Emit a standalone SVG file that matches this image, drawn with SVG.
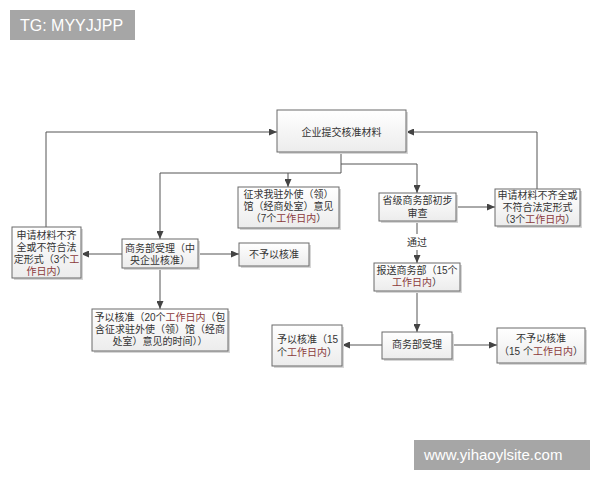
<svg xmlns="http://www.w3.org/2000/svg" width="600" height="480" viewBox="0 0 600 480">
<defs>
<linearGradient id="g" x1="0" y1="0" x2="0" y2="1">
<stop offset="0" stop-color="#ffffff"/>
<stop offset="1" stop-color="#ececec"/>
</linearGradient>
<marker id="a" markerUnits="userSpaceOnUse" markerWidth="8" markerHeight="7" refX="8" refY="3.5" orient="auto">
<path d="M0,0 L8,3.5 L0,7 z" fill="#444"/>
</marker>
</defs>
<style>
.b{fill:url(#g);stroke:#6a6a6a;stroke-width:1}
.s{fill:#d6d6d6}
.t{font-family:"Liberation Sans","Noto Sans CJK SC",sans-serif;font-size:10px;fill:#333;text-anchor:middle}
.l{text-anchor:start}
.r{fill:#8b3a3a}
.c{fill:none;stroke:#555;stroke-width:1;marker-end:url(#a)}
.w{font-family:"Liberation Sans",Arial,sans-serif;fill:#fff}
</style>
<rect width="600" height="480" fill="#fff"/>
<g id="connectors">
<path class="c" d="M46,227 V132 H277"/>
<path class="c" d="M537,189 V132 H406"/>
<path class="c" d="M341,152 V173 H160 V239"/>
<path class="c" d="M288,173 V187"/>
<path class="c" d="M341,164 H417 V193"/>
<path class="c" d="M122,254 H81"/>
<path class="c" d="M198,254 H239"/>
<path class="c" d="M160,268 V309"/>
<path class="c" d="M456,207 H495"/>
<path class="c" d="M417,221 V263"/>
<rect x="405" y="234" width="24" height="16" fill="#fff"/>
<text class="t" x="417" y="246">通过</text>
<path class="c" d="M417,291 V332"/>
<path class="c" d="M382,345 H342"/>
<path class="c" d="M452,345 H497"/>
</g>
<g id="submit">
<rect class="s" x="279" y="112" width="129" height="42"/>
<rect class="b" x="277" y="110" width="129" height="42"/>
<text class="t" x="341.5" y="136">企业提交核准材料</text>
</g>
<g id="consult">
<rect class="s" x="240" y="189" width="101" height="41"/>
<rect class="b" x="238" y="187" width="101" height="41"/>
<text class="t" x="288.5" y="198">征求我驻外使（领）</text>
<text class="t" x="288.5" y="210">馆（经商处室）意见</text>
<text class="t" x="288.5" y="222">（7个<tspan class="r">工作日内</tspan>）</text>
</g>
<g id="provincial">
<rect class="s" x="381" y="195" width="77" height="28"/>
<rect class="b" x="379" y="193" width="77" height="28"/>
<text class="t" x="417.5" y="204">省级商务部初步</text>
<text class="t" x="417.5" y="217">审查</text>
</g>
<g id="reject-right">
<rect class="s" x="497" y="191" width="85" height="37"/>
<rect class="b" x="495" y="189" width="85" height="37"/>
<text class="t" x="537.5" y="199">申请材料不齐全或</text>
<text class="t" x="537.5" y="211">不符合法定形式</text>
<text class="t" x="537.5" y="223">（3个<tspan class="r">工作日内</tspan>）</text>
</g>
<g id="reject-left">
<rect class="s" x="14" y="229" width="69" height="51"/>
<rect class="b" x="12" y="227" width="69" height="51"/>
<text class="t" x="46.5" y="239">申请材料不齐</text>
<text class="t" x="46.5" y="251">全或不符合法</text>
<text class="t" x="46.5" y="263">定形式（3个<tspan class="r">工</tspan></text>
<text class="t" x="46.5" y="275"><tspan class="r">作日内</tspan>）</text>
</g>
<g id="central">
<rect class="s" x="124" y="241" width="76" height="29"/>
<rect class="b" x="122" y="239" width="76" height="29"/>
<text class="t" x="160" y="252">商务部受理（中</text>
<text class="t" x="160" y="264">央企业核准）</text>
</g>
<g id="deny-central">
<rect class="s" x="241" y="245" width="70" height="23"/>
<rect class="b" x="239" y="243" width="70" height="23"/>
<text class="t" x="274" y="258">不予以核准</text>
</g>
<g id="approve-central">
<rect class="s" x="94" y="311" width="136" height="42"/>
<rect class="b" x="92" y="309" width="136" height="42"/>
<text class="t" x="160" y="321">予以核准（20个<tspan class="r">工作日内</tspan>（包</text>
<text class="t" x="160" y="333">含征求驻外使（领）馆（经商</text>
<text class="t" x="160" y="345">处室）意见的时间））</text>
</g>
<g id="report">
<rect class="s" x="376" y="265" width="86" height="28"/>
<rect class="b" x="374" y="263" width="86" height="28"/>
<text class="t" x="417" y="274">报送商务部（15个</text>
<text class="t" x="417" y="286"><tspan class="r">工作日内</tspan>）</text>
</g>
<g id="mofcom">
<rect class="s" x="384" y="334" width="70" height="27"/>
<rect class="b" x="382" y="332" width="70" height="27"/>
<text class="t" x="417" y="348">商务部受理</text>
</g>
<g id="approve">
<rect class="s" x="274" y="327" width="70" height="41"/>
<rect class="b" x="272" y="325" width="70" height="41"/>
<text class="t l" x="277" y="343">予以核准（15</text>
<text class="t l" x="277" y="356">个<tspan class="r">工作日内</tspan>）</text>
</g>
<g id="deny">
<rect class="s" x="499" y="330" width="88" height="35"/>
<rect class="b" x="497" y="328" width="88" height="35"/>
<text class="t" x="541" y="342">不予以核准</text>
<text class="t" x="541" y="355">（15 个<tspan class="r">工作日内</tspan>）</text>
</g>
<g id="watermarks">
<rect x="10" y="10" width="125" height="30" fill="#a6a6a6"/>
<text class="w" x="20" y="31" font-size="16">TG: MYYJJPP</text>
<rect x="414" y="440" width="176" height="30" fill="#a6a6a6"/>
<text class="w" x="424" y="460" font-size="15">www.yihaoylsite.com</text>
</g>
</svg>
